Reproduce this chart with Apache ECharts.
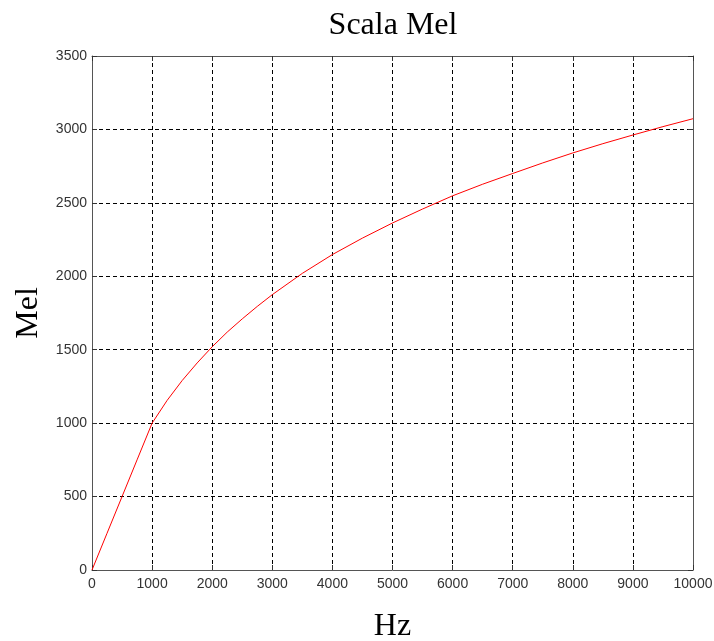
<!DOCTYPE html>
<html>
<head>
<meta charset="utf-8">
<script src="https://cdn.jsdelivr.net/npm/echarts@6/dist/echarts.min.js"></script>
<style>
  html, body { margin: 0; padding: 0; background: #fff; }
  #chart { width: 714px; height: 641px; }
</style>
</head>
<body>
<div id="chart"></div>
<script>
// Frequency (Hz) and the corresponding pitch on the Mel scale
const freqHz = [0, 250, 500, 750, 1000, 1250, 1500, 1750, 2000, 2250, 2500, 2750, 3000,
                3500, 4000, 4500, 5000, 5500, 6000, 6500, 7000, 7500, 8000, 8500, 9000, 9500, 10000];
const melValues = [0, 250, 500, 750, 1000, 1155, 1290, 1410, 1520, 1620, 1710, 1795, 1875,
                   2020, 2148, 2260, 2363, 2458, 2548, 2627, 2700, 2772, 2840, 2903, 2962, 3019, 3073];

const xTicks = { min: 0, max: 10000, interval: 1000 };
const yTicks = { min: 0, max: 3500, interval: 500 };

const chart = echarts.init(document.getElementById('chart'), null, { renderer: 'canvas' });

const serif = '"Liberation Serif", "Times New Roman", serif';
const sans = '"Liberation Sans", Arial, sans-serif';

const axisLine = { show: true, onZero: false, lineStyle: { color: '#555', width: 1 } };
const axisTick = { show: true, inside: true, length: 5, lineStyle: { color: '#333', width: 1 } };
const gridLine = { show: true, showMinLine: false, showMaxLine: false,
                   lineStyle: { color: '#000', width: 1, type: [4, 3] } };
const tickLabel = { color: '#333', fontFamily: sans, fontSize: 14, formatter: v => String(v) };

chart.setOption({
  animation: false,
  backgroundColor: '#fff',
  title: {
    text: 'Scala Mel',
    left: 388,
    top: 5,
    textAlign: 'center',
    textStyle: { fontFamily: serif, fontWeight: 'normal', fontSize: 32, color: '#000' }
  },
  grid: { left: 92, right: 21, top: 56, bottom: 71, containLabel: false, outerBoundsMode: 'none' },
  xAxis: [
    {
      type: 'value', position: 'bottom',
      min: xTicks.min, max: xTicks.max, interval: xTicks.interval,
      name: 'Hz', nameLocation: 'middle', nameGap: 41,
      nameTextStyle: { fontFamily: serif, fontSize: 32, color: '#000' },
      axisLine, axisTick, splitLine: gridLine,
      axisLabel: Object.assign({ margin: 7 }, tickLabel)
    },
    {
      type: 'value', position: 'top',
      min: xTicks.min, max: xTicks.max, interval: xTicks.interval,
      axisLine, axisTick, splitLine: { show: false }, axisLabel: { show: false }
    }
  ],
  yAxis: [
    {
      type: 'value', position: 'left',
      min: yTicks.min, max: yTicks.max, interval: yTicks.interval,
      name: 'Mel', nameLocation: 'middle', nameGap: 41,
      nameTextStyle: { fontFamily: serif, fontSize: 32, color: '#000' },
      axisLine, axisTick, splitLine: gridLine,
      axisLabel: Object.assign({ margin: 5 }, tickLabel)
    },
    {
      type: 'value', position: 'right',
      min: yTicks.min, max: yTicks.max, interval: yTicks.interval,
      axisLine, axisTick, splitLine: { show: false }, axisLabel: { show: false }
    }
  ],
  series: [
    {
      type: 'line',
      data: freqHz.map((f, i) => [f, melValues[i]]),
      xAxisIndex: 0, yAxisIndex: 0,
      showSymbol: false, smooth: false,
      lineStyle: { color: '#ff0000', width: 1 }
    }
  ]
});
</script>
</body>
</html>
